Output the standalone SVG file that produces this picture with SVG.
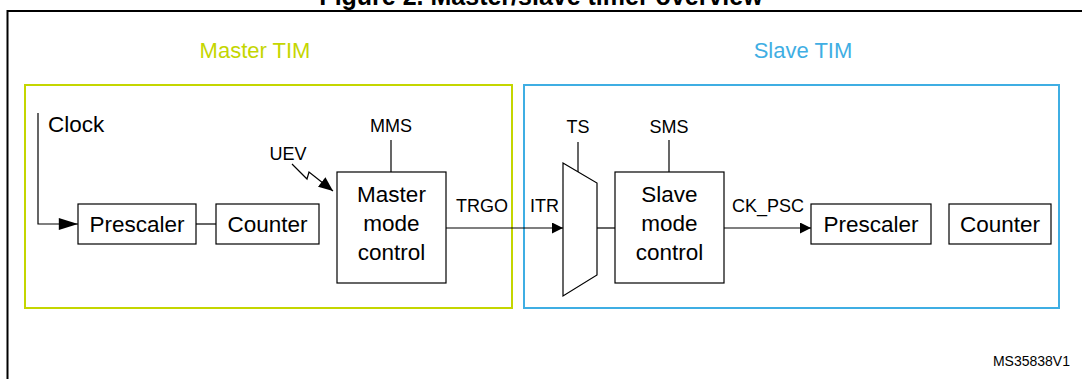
<svg xmlns="http://www.w3.org/2000/svg" width="1082" height="379" viewBox="0 0 1082 379">
<defs>
<style>
.box{fill:#fff;stroke:#000;stroke-width:1.2}
.ln{fill:none;stroke:#000;stroke-width:1.2}
.t{font-family:"Liberation Sans",Arial,sans-serif;fill:#000}
.big{font-size:22.5px}
.sm{font-size:18px}
</style>
<marker id="arr" viewBox="0 0 10 10" refX="10" refY="5" markerWidth="12" markerHeight="11" markerUnits="userSpaceOnUse" orient="auto">
<path d="M0,0 L10,5 L0,10 z" fill="#000"/>
</marker>
<marker id="arrB" viewBox="0 0 16 10" refX="16" refY="5" markerWidth="20" markerHeight="12" markerUnits="userSpaceOnUse" orient="auto">
<path d="M0,0 L16,5 L0,10 z" fill="#000"/>
</marker>
<marker id="arrL" viewBox="0 0 12 10" refX="12" refY="5" markerWidth="15" markerHeight="12" markerUnits="userSpaceOnUse" orient="auto">
<path d="M0,0 L12,5 L0,10 z" fill="#000"/>
</marker>
</defs>
<rect width="1082" height="379" fill="#fff"/>
<text class="t" x="541" y="5" text-anchor="middle" font-size="25" font-weight="bold">Figure 2. Master/slave timer overview</text>
<rect x="7.5" y="11" width="1100" height="400" fill="none" stroke="#000" stroke-width="2"/>

<g id="master">
<rect x="25" y="85" width="487" height="223" fill="none" stroke="#C4D600" stroke-width="2"/>
<text class="t" x="255" y="58" text-anchor="middle" font-size="22" style="fill:#C4D600">Master TIM</text>
</g>
<g id="slave">
<rect x="524" y="85" width="535" height="223" fill="none" stroke="#3FAEE3" stroke-width="2"/>
<text class="t" x="803" y="58" text-anchor="middle" font-size="22" style="fill:#3FAEE3">Slave TIM</text>
</g>

<g id="connectors">
<polyline class="ln" points="38,113 38,224 78,224" marker-end="url(#arrB)"/>
<line class="ln" x1="196" y1="224" x2="216" y2="224"/>
<line class="ln" x1="391" y1="140" x2="391" y2="172"/>
<polyline class="ln" points="292,164 307,179 309,172 333,191" marker-end="url(#arrL)"/>
<line class="ln" x1="446" y1="228" x2="563" y2="228" marker-end="url(#arr)"/>
<line class="ln" x1="578" y1="142" x2="578" y2="172"/>
<line class="ln" x1="597" y1="228" x2="615" y2="228"/>
<line class="ln" x1="669" y1="140" x2="669" y2="172"/>
<line class="ln" x1="724" y1="228" x2="811" y2="228" marker-end="url(#arr)"/>
</g>

<g id="clock"><text class="t big" x="48" y="132">Clock</text></g>
<g id="prescaler1">
<rect class="box" x="78" y="204" width="118" height="40"/>
<text class="t big" x="137" y="232" text-anchor="middle">Prescaler</text>
</g>
<g id="counter1">
<rect class="box" x="216" y="204" width="103" height="40"/>
<text class="t big" x="267.5" y="232" text-anchor="middle">Counter</text>
</g>
<g id="mms"><text class="t sm" x="391" y="132" text-anchor="middle">MMS</text></g>
<g id="uev"><text class="t sm" x="288" y="160" text-anchor="middle">UEV</text></g>
<g id="mastermode">
<rect class="box" x="337" y="172" width="109" height="111"/>
<text class="t big" x="391.5" y="202" text-anchor="middle">Master</text>
<text class="t big" x="391.5" y="231" text-anchor="middle">mode</text>
<text class="t big" x="391.5" y="260" text-anchor="middle">control</text>
</g>
<g id="trgo"><text class="t sm" x="456" y="212">TRGO</text></g>
<g id="itr"><text class="t sm" x="530" y="212">ITR</text></g>
<g id="mux">
<polygon class="box" points="563,163 597,183 597,275 563,296"/>
</g>
<g id="ts"><text class="t sm" x="578" y="133" text-anchor="middle">TS</text></g>
<g id="sms"><text class="t sm" x="669" y="133" text-anchor="middle">SMS</text></g>
<g id="slavemode">
<rect class="box" x="615" y="172" width="109" height="111"/>
<text class="t big" x="669.5" y="202" text-anchor="middle">Slave</text>
<text class="t big" x="669.5" y="231" text-anchor="middle">mode</text>
<text class="t big" x="669.5" y="260" text-anchor="middle">control</text>
</g>
<g id="ckpsc"><text class="t sm" x="732" y="212">CK_PSC</text></g>
<g id="prescaler2">
<rect class="box" x="811" y="204" width="120" height="40"/>
<text class="t big" x="871" y="232" text-anchor="middle">Prescaler</text>
</g>
<g id="counter2">
<rect class="box" x="949" y="204" width="102" height="40"/>
<text class="t big" x="1000" y="232" text-anchor="middle">Counter</text>
</g>
<g id="ref"><text class="t" x="1070" y="366" text-anchor="end" font-size="14">MS35838V1</text></g>
</svg>
